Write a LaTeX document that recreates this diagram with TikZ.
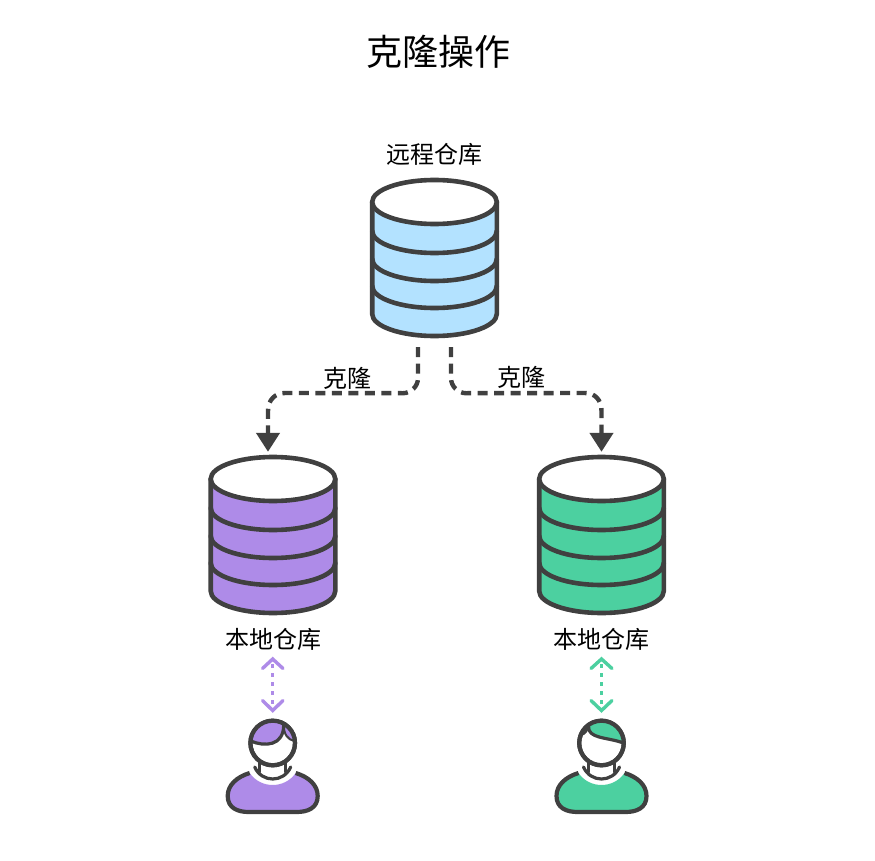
\documentclass[tikz,border=0pt]{standalone}
\usepackage{fontspec}
\setmainfont{Noto Sans CJK SC}
\usetikzlibrary{arrows.meta,calc}
\definecolor{ink}{HTML}{404040}
\definecolor{skyfill}{HTML}{B3E2FF}
\definecolor{purplefill}{HTML}{AE8BE8}
\definecolor{greenfill}{HTML}{4CD0A0}
\tikzset{
  outline/.style={draw=ink,line width=4.6pt,line join=round,line cap=round},
  headline/.style={draw=ink,line width=4.2pt,line join=round},
  thinout/.style={draw=ink,line width=3.2pt,line join=round,line cap=round},
  label24/.style={font=\fontsize{24}{28}\selectfont,text=black,inner sep=0pt},
  title36/.style={font=\fontsize{36}{42}\selectfont,text=black,inner sep=0pt},
  anchorbox/.style={inner sep=0pt,minimum width=127pt,minimum height=157pt},
  clone/.style={draw=ink,line width=4.4pt,dash pattern=on 10pt off 6.5pt,-{Triangle[width=23pt,length=19pt]}},
  duplex/.style={line width=3.4pt,dash pattern=on 3.5pt off 5.5pt},
  chevron/.style={line width=3.4pt,line cap=round,line join=miter},
}
\newcommand{\dbcyl}[4]{% x, y of top ellipse centre, fill, node name
  \begin{scope}[shift={(#1,#2)}]
    \path[fill=#3] (-62.3,0) -- (-62.3,112) arc[start angle=180,end angle=0,x radius=62.3,y radius=22] -- (62.3,0) -- cycle;
    \draw[outline] (-62.3,0) -- (-62.3,112) arc[start angle=180,end angle=0,x radius=62.3,y radius=22] -- (62.3,0);
    \foreach \yy in {29,57,84}{
      \draw[outline] (-62.3,\yy) arc[start angle=180,end angle=0,x radius=62.3,y radius=22];
    }
    \draw[outline,fill=white] (0,0) ellipse[x radius=62.3,y radius=22];
    \node[anchorbox] (#4) at (0,56.5) {};
  \end{scope}
}
\newcommand{\personbody}[1]{% torso, neck and head outline; origin = head centre
  \path[fill=#1]
    (-23,30) .. controls (-12,46) and (12,46) .. (23,30)
    .. controls (36,34) and (45,42) .. (45,53)
    .. controls (45,65) and (35,69) .. (24,69)
    -- (-24,69)
    .. controls (-35,69) and (-45,65) .. (-45,53)
    .. controls (-45,42) and (-36,34) .. (-23,30) -- cycle;
  \draw[headline]
    (23,30)
    .. controls (36,34) and (45,42) .. (45,53)
    .. controls (45,65) and (35,69) .. (24,69)
    -- (-24,69)
    .. controls (-35,69) and (-45,65) .. (-45,53)
    .. controls (-45,42) and (-36,34) .. (-23,30);
  \draw[thinout] (-13,20) -- (-13,29);
  \draw[thinout] (13,20) -- (13,29);
  \draw[thinout] (-18,24) .. controls (-11,40) and (11,40) .. (18,24);
}
\begin{document}
\begin{tikzpicture}[x=1pt,y=-1pt]
\useasboundingbox (0,0) rectangle (875,861);
\path[fill=white] (0,0) rectangle (875,861);
\node[title36] (title) at (438.5,52) {克隆操作};
\node[label24] (remotelabel) at (434,154) {远程仓库};
\dbcyl{434.5}{202}{skyfill}{remote}
\dbcyl{273}{479}{purplefill}{localA}
\dbcyl{601.5}{479}{greenfill}{localB}
\node[label24] (labelA) at (273,639) {本地仓库};
\node[label24] (labelB) at (601.5,639) {本地仓库};
% clone connectors
\coordinate (sa) at ($(remote.south)+(-16.5,10)$);
\coordinate (sb) at ($(remote.south)+(16.5,10)$);
\coordinate (ea) at ($(localA.north)+(-5,-5)$);
\coordinate (eb) at ($(localB.north)+(0,-5)$);
\draw[clone] (sa) -- ++(0,31) .. controls +(0,8) and +(8,0) .. ++(-15,15) -- (285,393) .. controls (275,393) and (268,400) .. (268,411) -- (ea);
\draw[clone] (sb) -- ++(0,31) .. controls +(0,8) and +(-8,0) .. ++(15,15) -- (585,393) .. controls (595,393) and (601.5,400) .. (601.5,411) -- (eb);
\node[label24] (cloneA) at (347,378) {克隆};
\node[label24] (cloneB) at (521,377) {克隆};
% persons
\coordinate (pa) at (272.7,743);
\coordinate (pb) at (601.5,743);
\begin{scope}[shift={(pa)}]
  \personbody{purplefill}
  \draw[headline,fill=white] (0,0) circle[radius=22.3];
  \path[fill=purplefill] (-22,-2) .. controls (-8,4) and (11,3) .. (11,-18) .. controls (11,-9) and (15,-3) .. (22,-2) arc[start angle=-5,end angle=-175,radius=22] -- cycle;
  \draw[thinout] (-22,-2) .. controls (-8,4) and (11,3) .. (11,-18);
  \draw[thinout,line width=2pt] (11,-18) .. controls (11,-9) and (15,-3) .. (22,-2);
  \draw[headline] (0,0) circle[radius=22.3];
\end{scope}
\begin{scope}[shift={(pb)}]
  \personbody{greenfill}
  \draw[headline,fill=white] (0,0) circle[radius=22.3];
  \path[fill=greenfill] (-13,-17) .. controls (-14,-4) and (6,-6) .. (22,0) arc[start angle=0,end angle=-128,radius=22] -- cycle;
  \path[fill=greenfill] (-13,-17) .. controls (-14,-12) and (-17,-9) .. (-20,-8) arc[start angle=-158,end angle=-128,radius=22] -- cycle;
  \draw[thinout] (-13,-17) .. controls (-14,-4) and (6,-6) .. (22,0);
  \draw[thinout,line width=2pt] (-13,-17) .. controls (-14,-12) and (-17,-9) .. (-20,-8);
  \draw[headline] (0,0) circle[radius=22.3];
\end{scope}
% local double arrows
\coordinate (da) at (272.7,659);
\coordinate (db) at (601.5,659);
\draw[purplefill,duplex] (272.7,664) -- (272.7,704);
\draw[purplefill,chevron] (262.5,668.5) -- (da) -- (283,668.5);
\draw[purplefill,chevron] (262.5,700.5) -- (272.7,710.5) -- (283,700.5);
\draw[greenfill,duplex] (601.5,664) -- (601.5,704);
\draw[greenfill,chevron] (591,668.5) -- (db) -- (612,668.5);
\draw[greenfill,chevron] (591,700.5) -- (601.5,710.5) -- (612,700.5);
\end{tikzpicture}
\end{document}
